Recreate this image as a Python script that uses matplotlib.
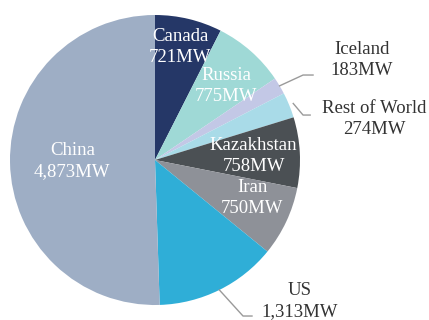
import numpy as np
import matplotlib
matplotlib.use("Agg")
import matplotlib.pyplot as plt

countries = ["Canada", "Russia", "Iceland", "Rest of World", "Kazakhstan", "Iran", "US", "China"]
values = [721, 775, 183, 274, 758, 750, 1313, 4873]
value_labels = ["721MW", "775MW", "183MW", "274MW", "758MW", "750MW", "1,313MW", "4,873MW"]
colors = ["#253767", "#9fd9d6", "#c3c8e6", "#a9dbe8", "#4b5054", "#8e9198", "#2faed7", "#9eaec5"]

plt.rcParams["font.family"] = ["Liberation Serif", "DejaVu Serif"]

fig = plt.figure(figsize=(4.29, 3.2), dpi=100)
ax = fig.add_axes([10 / 429, 15 / 320, 290 / 429, 290 / 320])
wedges, _ = ax.pie(values, colors=colors, startangle=90, counterclock=False,
                   radius=1.0, wedgeprops=dict(linewidth=0))
ax.set_xlim(-1, 1)
ax.set_ylim(-1, 1)
ax.set_aspect("equal")
ax.axis("off")

fs = 13.5
ls = 1.32
# inside labels: radius factor and angle offset (deg)
inside = {"Canada": (0.80, 1.0), "Russia": (0.71, -2.5), "Kazakhstan": (0.68, -0.5),
          "Iran": (0.72, 4.0), "China": (0.57, 0.0)}
for w, c, vl in zip(wedges, countries, value_labels):
    mid = np.deg2rad((w.theta1 + w.theta2) / 2)
    if c in inside:
        r, off = inside[c]
        a = mid + np.deg2rad(off)
        ax.text(r * np.cos(a), r * np.sin(a), f"{c}\n{vl}", ha="center", va="center",
                color="white", fontsize=fs, linespacing=ls)

# outside labels with leader lines: (start radius, elbow, end, text position)
outside = {
    "Iceland": (1.0, (1.021, 0.586), (1.09, 0.586), (1.428, 0.69)),
    "Rest of World": (1.03, (1.021, 0.31), (1.07, 0.31), (1.51, 0.283)),
    "US": (1.0, (0.607, -1.076), (0.669, -1.076), (1.0, -0.972)),
}
for w, c, vl in zip(wedges, countries, value_labels):
    if c in outside:
        r0, elbow, end, tpos = outside[c]
        mid = np.deg2rad((w.theta1 + w.theta2) / 2)
        xs = [r0 * np.cos(mid), elbow[0], end[0]]
        ys = [r0 * np.sin(mid), elbow[1], end[1]]
        ax.plot(xs, ys, color="#9a9a9a", lw=1.0, clip_on=False)
        ax.text(tpos[0], tpos[1], f"{c}\n{vl}", ha="center", va="center",
                color="#333333", fontsize=fs, linespacing=ls, clip_on=False)

fig.savefig("out.png", dpi=100)
